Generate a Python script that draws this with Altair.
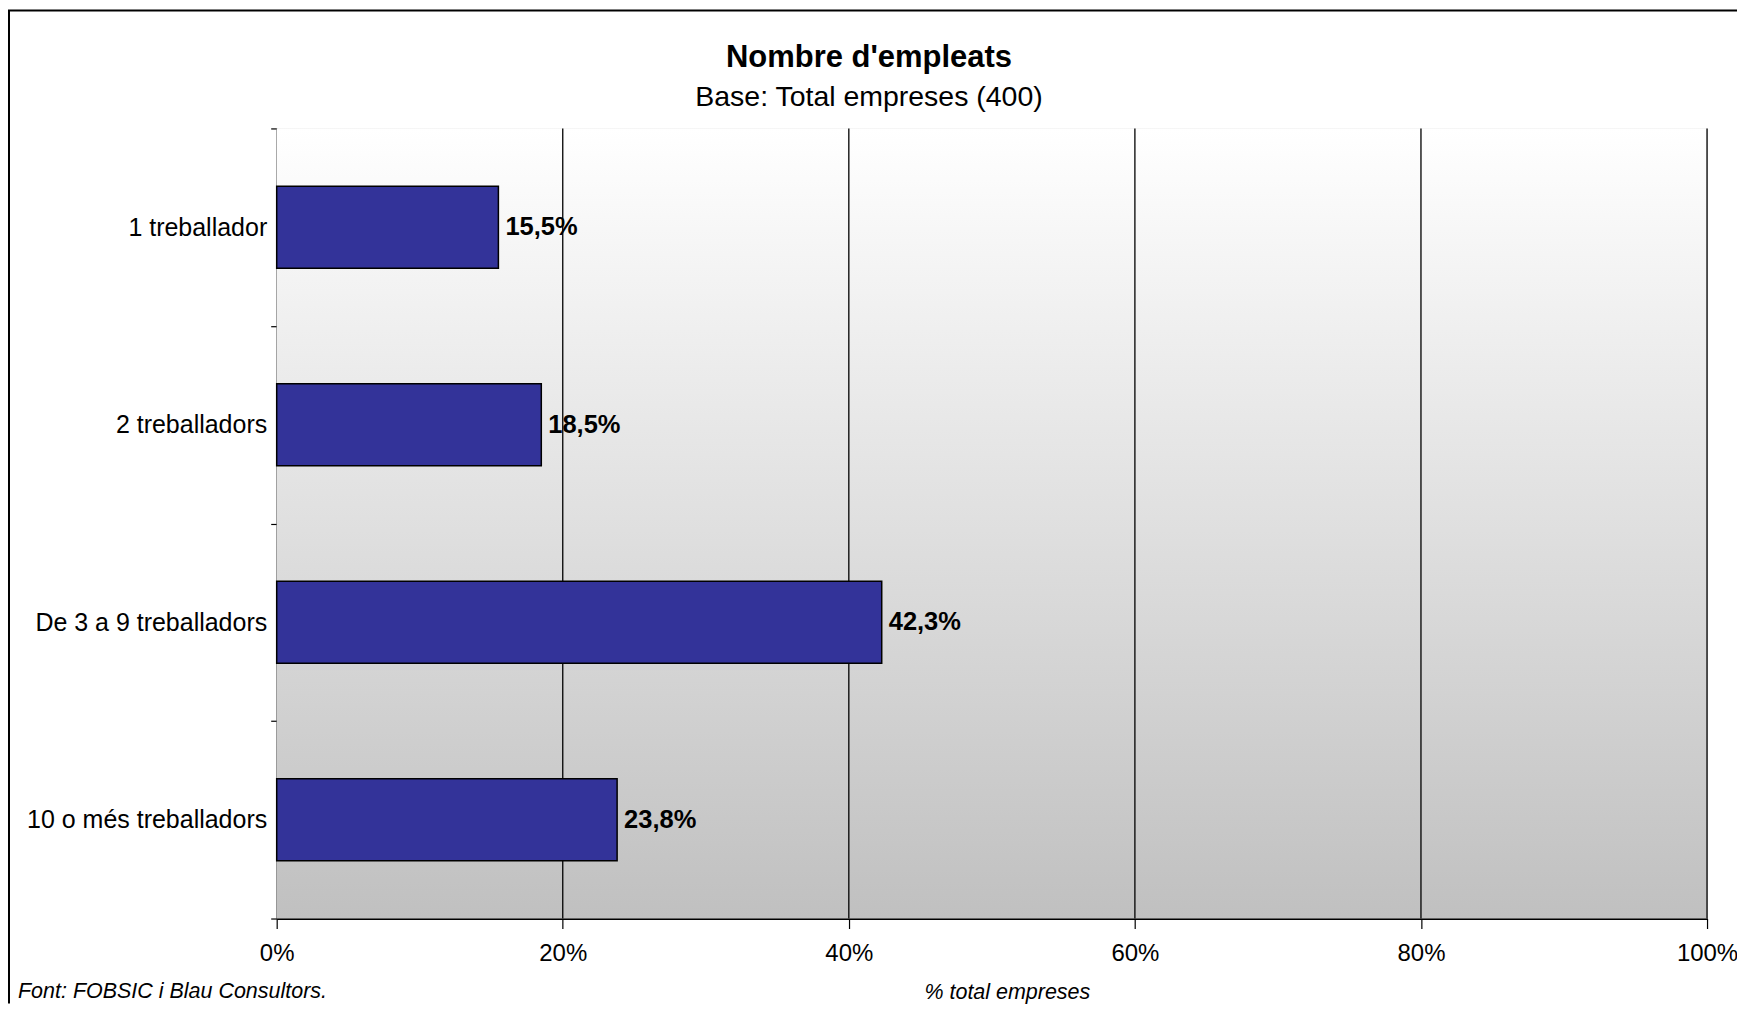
import altair as alt
import pandas as pd

categories = ["1 treballador", "2 treballadors", "De 3 a 9 treballadors", "10 o més treballadors"]
values = [15.5, 18.5, 42.3, 23.8]
tick_values = [0, 20, 40, 60, 80, 100]
grid_values = [20, 40, 60, 80, 100]
title_text = "Nombre d'empleats"
subtitle_text = "Base: Total empreses (400)"
x_title = "% total empreses"
source_text = "Font: FOBSIC i Blau Consultors."

FONT = "Liberation Sans"
W, H = 1432, 791
PL, PT, PR, PB = 269, 120, 30, 85
OX, OY = 277, 128  # page position of plot origin

df = pd.DataFrame({
    "cat": categories,
    "val": values,
    "label": [f"{v:.1f}".replace(".", ",") + "%" for v in values],
})
grid_df = pd.DataFrame({"g": grid_values})
one = pd.DataFrame({"t": [source_text]})
titles = pd.DataFrame({"t": [title_text, subtitle_text]})

xscale = alt.Scale(domain=[0, 100], nice=False, zero=True)
yscale = alt.Scale(domain=categories, paddingInner=0, paddingOuter=0)

xaxis = alt.Axis(values=tick_values, labelExpr="datum.value + '%'",
                 grid=False, tickSize=10, labelPadding=13, labelFlush=False,
                 domainColor="black", domainWidth=2, tickColor="black", tickWidth=1.2,
                 labelFontSize=24, labelFont=FONT, labelColor="black",
                 title=x_title, titleFont=FONT, titleFontSize=21.5,
                 titleFontStyle="italic", titleFontWeight="normal",
                 titleColor="black", titleX=731, titleY=74,
                 titleBaseline="middle", titleAlign="center")
yaxis = alt.Axis(title=None, grid=False, tickBand="extent", tickSize=6,
                 labelPadding=4, labelFontSize=25, labelFont=FONT,
                 labelColor="black", domainColor="black", domainWidth=1.3,
                 tickColor="black", tickWidth=1.2, labelLimit=400)

bg = alt.Chart(one).mark_rect(
    fill=alt.Gradient(
        gradient="linear",
        stops=[alt.GradientStop(color="#ffffff", offset=0),
               alt.GradientStop(color="#c0c0c0", offset=1)],
        x1=0, x2=0, y1=0, y2=1,
    )
).encode(x=alt.value(0), x2=alt.value(W), y=alt.value(0), y2=alt.value(H))

grid = alt.Chart(grid_df).mark_rule(color="black", strokeWidth=1.3).encode(
    x=alt.X("g:Q", scale=xscale, axis=xaxis)
)

bars = alt.Chart(df).mark_bar(color="#333399", stroke="black", strokeWidth=1.5, size=82).encode(
    x=alt.X("val:Q", scale=xscale, axis=xaxis),
    y=alt.Y("cat:N", scale=yscale, sort=categories, axis=yaxis),
)

labels = alt.Chart(df).mark_text(
    align="left", baseline="middle", dx=7, fontSize=25.5, fontWeight="bold",
    font=FONT, color="black"
).encode(
    x=alt.X("val:Q", scale=xscale, axis=xaxis),
    y=alt.Y("cat:N", scale=yscale, sort=categories, axis=yaxis),
    text="label:N",
)

title_mark = alt.Chart(titles.iloc[[0]]).mark_text(
    align="center", baseline="middle", fontSize=31, fontWeight="bold", font=FONT, color="black"
).encode(x=alt.value(870 - OX), y=alt.value(57 - OY), text="t:N")

subtitle_mark = alt.Chart(titles.iloc[[1]]).mark_text(
    align="center", baseline="middle", fontSize=28.5, font=FONT, color="black"
).encode(x=alt.value(870 - OX), y=alt.value(97 - OY), text="t:N")

source = alt.Chart(one).mark_text(
    align="left", baseline="middle", fontSize=21.5, fontStyle="italic", font=FONT, color="black"
).encode(x=alt.value(18 - OX), y=alt.value(993 - OY), text="t:N")

frame_top = alt.Chart(one).mark_rule(color="black", strokeWidth=2).encode(
    x=alt.value(-PL), x2=alt.value(W + PR), y=alt.value(-118)
)
frame_left = alt.Chart(one).mark_rule(color="black", strokeWidth=2).encode(
    x=alt.value(-PL + 1), y=alt.value(-118), y2=alt.value(H + PB)
)

chart = alt.layer(bg, grid, bars, labels, title_mark, subtitle_mark, source,
                  frame_top, frame_left).properties(
    width=W, height=H,
    autosize=alt.AutoSizeParams(type="none"),
    padding={"left": PL, "top": PT, "right": PR, "bottom": PB},
).configure_view(stroke="#808080", strokeWidth=2).configure(background="white")

chart.save("out.html", embed_options={"renderer": "svg", "actions": False})
